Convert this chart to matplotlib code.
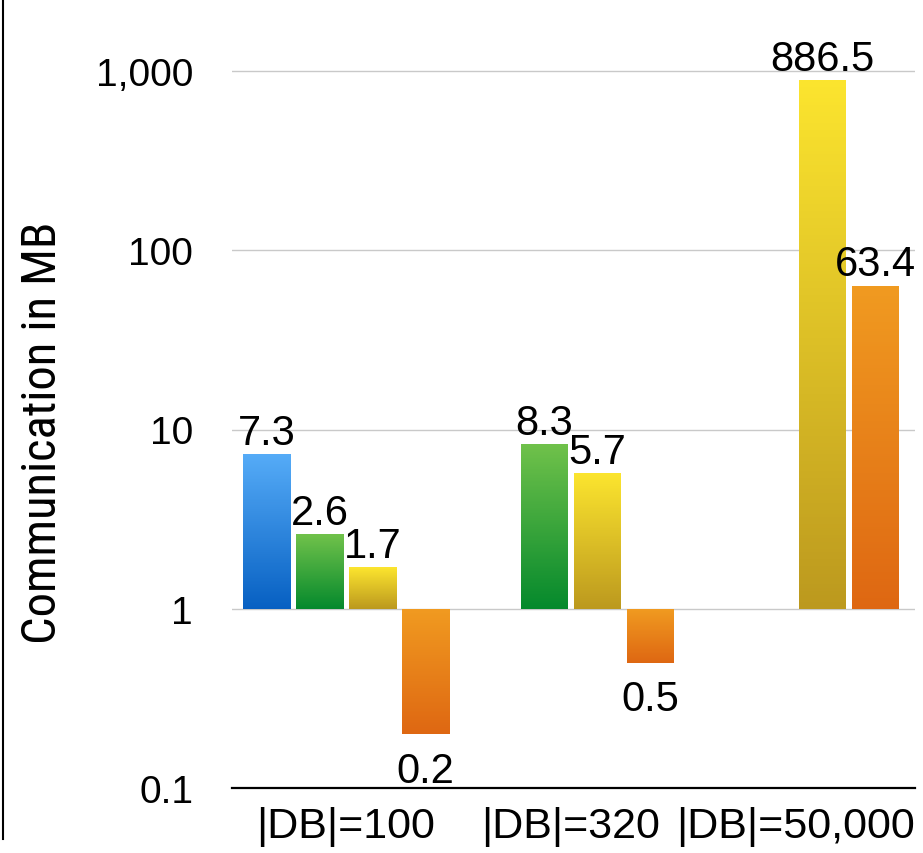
import numpy as np
import matplotlib.pyplot as plt
from matplotlib.lines import Line2D
from matplotlib.colors import LinearSegmentedColormap
import matplotlib.ticker as mticker

# data
categories = ['|DB|=100', '|DB|=320', '|DB|=50,000']
blue_vals = [7.3, None, None]
green_vals = [2.6, 8.3, None]
yellow_vals = [1.7, 5.7, 886.5]
orange_vals = [0.2, 0.5, 63.4]
y_ticks = [0.1, 1, 10, 100, 1000]
y_tick_labels = ['0.1', '1', '10', '100', '1,000']

series = [blue_vals, green_vals, yellow_vals, orange_vals]
# (top colour, bottom colour)
gradients = [('#55abf7', '#0760c2'),
             ('#6fc14a', '#05892c'),
             ('#fbe42e', '#bc991e'),
             ('#f09a20', '#de6712')]

plt.rcParams['font.family'] = ['Liberation Sans', 'DejaVu Sans']
narrow = ['Roboto Condensed', 'Liberation Sans']

fig = plt.figure(figsize=(9.23, 8.54), dpi=100)
ax = fig.add_axes([232 / 923, 65 / 854, 683 / 923, 789 / 854])
ax.set_yscale('log')

base = 1.0
step = 0.2356
width = 0.213
x = np.arange(len(categories))
nseg = 150

for i, (vals, (ctop, cbot)) in enumerate(zip(series, gradients)):
    cmap = LinearSegmentedColormap.from_list('g%d' % i, [cbot, ctop])
    for j, v in enumerate(vals):
        if v is None:
            continue
        xc = x[j] + (i - 1.5) * step
        lo, hi = min(v, base), max(v, base)
        # gradient: thin slices, evenly spaced on the log axis
        edges = np.geomspace(lo, hi, nseg + 1)
        frac = np.linspace(0, 1, nseg)
        ax.bar(np.full(nseg, xc), np.diff(edges), width=width, bottom=edges[:-1],
               color=cmap(frac), edgecolor='none', linewidth=0,
               antialiased=False, zorder=3)
        if v >= base:
            ax.annotate(f'{v:g}', (xc, v), xytext=(0, 1), textcoords='offset points',
                        ha='center', va='bottom', fontsize=30, zorder=5)
        else:
            ax.annotate(f'{v:g}', (xc, v), xytext=(0, -12), textcoords='offset points',
                        ha='center', va='top', fontsize=30, zorder=5)

ax.set_xlim(-0.507, 2.529)
ax.set_ylim(0.1, 10 ** (3 + 72 / 179.25))

for t in y_ticks[1:]:
    ax.axhline(t, color='#c9c9c9', lw=1.0, zorder=1)

ax.yaxis.set_major_locator(mticker.FixedLocator(y_ticks))
ax.yaxis.set_major_formatter(mticker.FixedFormatter(y_tick_labels))
ax.yaxis.set_minor_locator(mticker.NullLocator())
ax.tick_params(axis='y', length=0, pad=28, labelsize=28)
ax.set_xticks(x)
ax.set_xticklabels(categories, fontsize=31)
ax.tick_params(axis='x', length=0, pad=13)

for s in ['top', 'right', 'left']:
    ax.spines[s].set_visible(False)
ax.spines['bottom'].set_linewidth(1.6)
ax.spines['bottom'].set_color('black')

ax.set_ylabel('Communication in MB', fontsize=35, family=narrow)
ax.yaxis.set_label_coords(-0.243, 0.452)

fig.add_artist(Line2D([3 / 923, 3 / 923], [14 / 854, 1.0], color='black', lw=1.5))

fig.savefig('out.png', dpi=100)
